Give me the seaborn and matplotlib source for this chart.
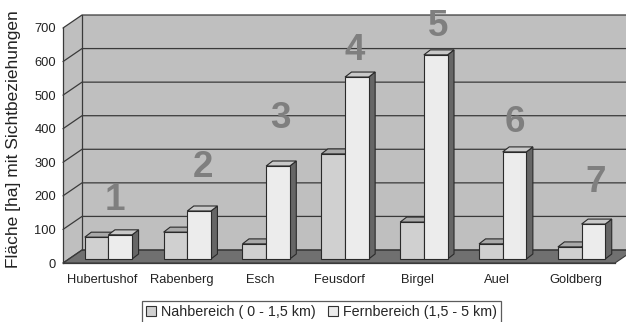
import matplotlib
matplotlib.use("Agg")
import matplotlib.pyplot as plt
import numpy as np
import pandas as pd
import seaborn as sns
from matplotlib.patches import Polygon
from matplotlib.lines import Line2D

# ---------------- data ----------------
orte = ["Hubertushof", "Rabenberg", "Esch", "Feusdorf", "Birgel", "Auel", "Goldberg"]
nahbereich = [65, 80, 45, 313, 110, 45, 36]
fernbereich = [72, 143, 277, 542, 608, 319, 104]
series_labels = ["Nahbereich ( 0 - 1,5 km)", "Fernbereich (1,5 - 5 km)"]
nummern = ["1", "2", "3", "4", "5", "6", "7"]
y_ticks = [0, 100, 200, 300, 400, 500, 600, 700]
y_label = "Fläche [ha] mit Sichtbeziehungen"

# ---------------- layout / style ----------------
W, H = 626, 322
num_dx = [0.16, 0.275, 0.26, 0.2, 0.255, 0.23, 0.25]       # label offsets (category units)
num_base = [158, 256, 402, 605, 676, 390, 212]             # label baselines (data units)

c_nah, c_fern = "#d0d0d0", "#ececec"
c_nah_top, c_fern_top = "#a9a9a9", "#c9c9c9"
c_side = "#666666"
c_wall, c_floor = "#bfbfbf", "#707070"
c_line = "#3a3a3a"

sns.set_style("white")
plt.rcParams["font.family"] = ["Liberation Sans", "DejaVu Sans"]

fig = plt.figure(figsize=(W / 100, H / 100), dpi=100)
ax = fig.add_axes([63 / W, (H - 263) / H, 552 / W, 235 / H])

df = pd.DataFrame({
    "Ort": orte * 2,
    "Fläche": nahbereich + fernbereich,
    "Bereich": [series_labels[0]] * len(orte) + [series_labels[1]] * len(orte),
})

sns.barplot(data=df, x="Ort", y="Fläche", hue="Bereich",
            palette=[c_nah, c_fern], saturation=1, width=0.6,
            edgecolor="#2a2a2a", linewidth=0.8, errorbar=None, ax=ax)

ax.set_xlim(-0.5, len(orte) - 0.5)
ax.set_ylim(0, 700)

# pixel -> data conversions
pxx = 552 / len(orte)
pxy = 235 / 700.0
bdx, bdy = 19 / pxx, 13 / pxy          # back wall depth
fdx, fdy = 6 / pxx, 4 / pxy            # bar front offset
ddx, ddy = 6.5 / pxx, 5 / pxy          # bar depth

n = len(orte)
bars = [p for p in ax.patches if p.get_width() < 1 and p.get_height() > 0]

x0, x1 = -0.5, n - 0.5
# back wall, side wall, floor
ax.add_patch(Polygon([(x0 + bdx, bdy), (x1 + bdx, bdy), (x1 + bdx, 700 + bdy), (x0 + bdx, 700 + bdy)],
                     closed=True, facecolor=c_wall, edgecolor="none", clip_on=False, zorder=1))
ax.add_patch(Polygon([(x0, 0), (x0 + bdx, bdy), (x0 + bdx, 700 + bdy), (x0, 700)],
                     closed=True, facecolor=c_wall, edgecolor="none", clip_on=False, zorder=1))
ax.add_patch(Polygon([(x0, 0), (x1, 0), (x1 + bdx, bdy), (x0 + bdx, bdy)],
                     closed=True, facecolor=c_floor, edgecolor=c_line, linewidth=0.8,
                     clip_on=False, zorder=1.5))
# grid lines
for t in y_ticks:
    ax.add_line(Line2D([x0, x0 + bdx, x1 + bdx], [t, t + bdy, t + bdy], color=c_line,
                       linewidth=0.9, clip_on=False, zorder=2))
ax.add_line(Line2D([x0 + bdx, x0 + bdx], [bdy, 700 + bdy], color=c_line, linewidth=0.9,
                   clip_on=False, zorder=2))

# 3D bars built from seaborn's bars
for i, p in enumerate(bars):
    hue = 0 if i < n else 1
    x, w, h = p.get_x() + fdx, p.get_width(), p.get_height()
    p.set_x(x)
    p.set_y(fdy)
    p.set_clip_on(False)
    zb = 5 + hue
    p.set_zorder(zb + 0.5)
    y = fdy
    side = Polygon([(x + w, y), (x + w + ddx, y + ddy), (x + w + ddx, y + h + ddy), (x + w, y + h)],
                   closed=True, facecolor=c_side, edgecolor="#2a2a2a", linewidth=0.8,
                   clip_on=False, zorder=zb)
    top = Polygon([(x, y + h), (x + w, y + h), (x + w + ddx, y + h + ddy), (x + ddx, y + h + ddy)],
                  closed=True, facecolor=(c_nah_top if hue == 0 else c_fern_top),
                  edgecolor="#2a2a2a", linewidth=0.8, clip_on=False, zorder=zb)
    ax.add_patch(side)
    ax.add_patch(top)

# big numbers
for i, lab in enumerate(nummern):
    ax.text(i + num_dx[i], num_base[i], lab, ha="center", va="baseline", fontsize=26.5,
            fontweight="bold", color="#7f7f7f", zorder=8, clip_on=False)

# axes styling
for s in ["top", "right"]:
    ax.spines[s].set_visible(False)
for s in ["left", "bottom"]:
    ax.spines[s].set_color(c_line)
    ax.spines[s].set_linewidth(0.9)
    ax.spines[s].set_zorder(3)
ax.set_yticks(y_ticks)
ax.set_yticklabels([str(t) for t in y_ticks])
ax.tick_params(axis="y", length=4, width=0.9, color=c_line, pad=1, labelsize=9.3, labelcolor="#222222")
ax.set_xticks(range(n))
ax.set_xticklabels(orte)
ax.set_xticks(np.arange(n + 1) - 0.5, minor=True)
ax.tick_params(axis="x", which="major", length=0, pad=8, labelsize=9.3, labelcolor="#222222")
ax.tick_params(axis="x", which="minor", length=4, width=0.9, color=c_line, direction="out")
ax.set_xlabel("")
ax.set_ylabel("")
fig.text(14 / W, 1 - 139 / H, y_label, rotation=90, ha="center", va="center",
         fontsize=12.5, color="#222222")

handles, labels = ax.get_legend_handles_labels()
if ax.get_legend() is not None:
    ax.get_legend().remove()
leg = fig.legend(handles, labels, loc="upper center", bbox_to_anchor=(321.5 / W, 1 - 301 / H),
                 ncol=2, frameon=True, fancybox=False, edgecolor="#333333", fontsize=10.3,
                 handlelength=0.7, handleheight=0.7, handletextpad=0.3, columnspacing=0.9,
                 borderpad=0.3, borderaxespad=0)
leg.get_frame().set_linewidth(0.9)
for hnd in leg.legend_handles:
    hnd.set_edgecolor("#333333")
    hnd.set_linewidth(0.8)

fig.savefig("out.png", dpi=100, facecolor="white")
